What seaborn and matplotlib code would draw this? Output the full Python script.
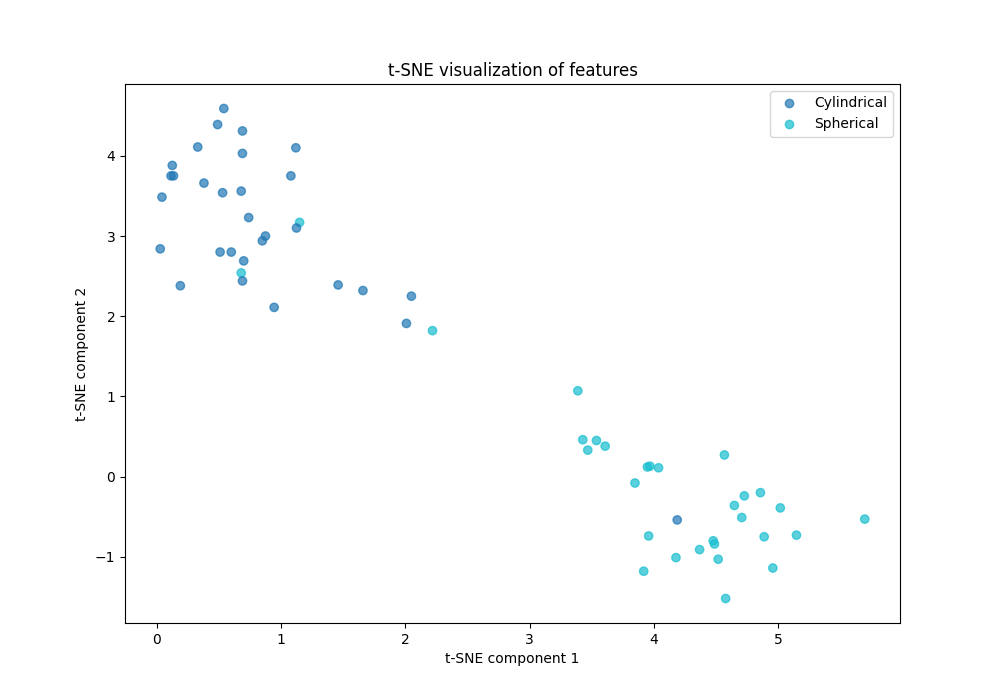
import matplotlib
matplotlib.use("Agg")
import matplotlib.pyplot as plt
import seaborn as sns
import pandas as pd

cyl_x = [0.538,0.488,0.688,0.328,1.118,0.688,0.123,0.113,0.133,1.078,0.378,0.678,0.528,0.04,0.738,1.123,0.873,0.848,0.026,0.508,0.598,0.698,0.188,0.688,0.943,1.458,1.658,2.048,2.008,4.188]
cyl_y = [4.59,4.39,4.31,4.11,4.10,4.03,3.88,3.75,3.75,3.75,3.66,3.56,3.54,3.485,3.23,3.10,3.00,2.94,2.84,2.80,2.80,2.69,2.38,2.44,2.11,2.39,2.32,2.25,1.91,-0.54]
sph_x = [1.148,0.678,2.218,3.388,3.428,3.538,3.468,3.608,3.948,3.968,4.038,4.568,3.848,4.858,4.728,5.018,4.648,4.708,5.698,3.958,5.148,4.888,4.478,4.488,4.368,4.178,4.518,4.958,3.918,4.578]
sph_y = [3.17,2.54,1.82,1.07,0.46,0.45,0.33,0.38,0.12,0.13,0.11,0.27,-0.08,-0.20,-0.24,-0.39,-0.36,-0.51,-0.53,-0.74,-0.73,-0.75,-0.80,-0.84,-0.91,-1.01,-1.03,-1.14,-1.18,-1.52]

df = pd.DataFrame({
    "x": sph_x + cyl_x,
    "y": sph_y + cyl_y,
    "label": ["Spherical"] * len(sph_x) + ["Cylindrical"] * len(cyl_x),
})

fig, ax = plt.subplots(figsize=(10, 7), dpi=100)
sns.scatterplot(data=df, x="x", y="y", hue="label",
                hue_order=["Cylindrical", "Spherical"],
                palette={"Cylindrical": "#1f77b4", "Spherical": "#17becf"},
                alpha=0.7, s=36, linewidth=1, edgecolor="face", ax=ax, zorder=2)
ax.set_title("t-SNE visualization of features")
ax.set_xlabel("t-SNE component 1")
ax.set_ylabel("t-SNE component 2")
ax.legend(title=None, loc="upper right")
fig.savefig("out.png", dpi=100)
